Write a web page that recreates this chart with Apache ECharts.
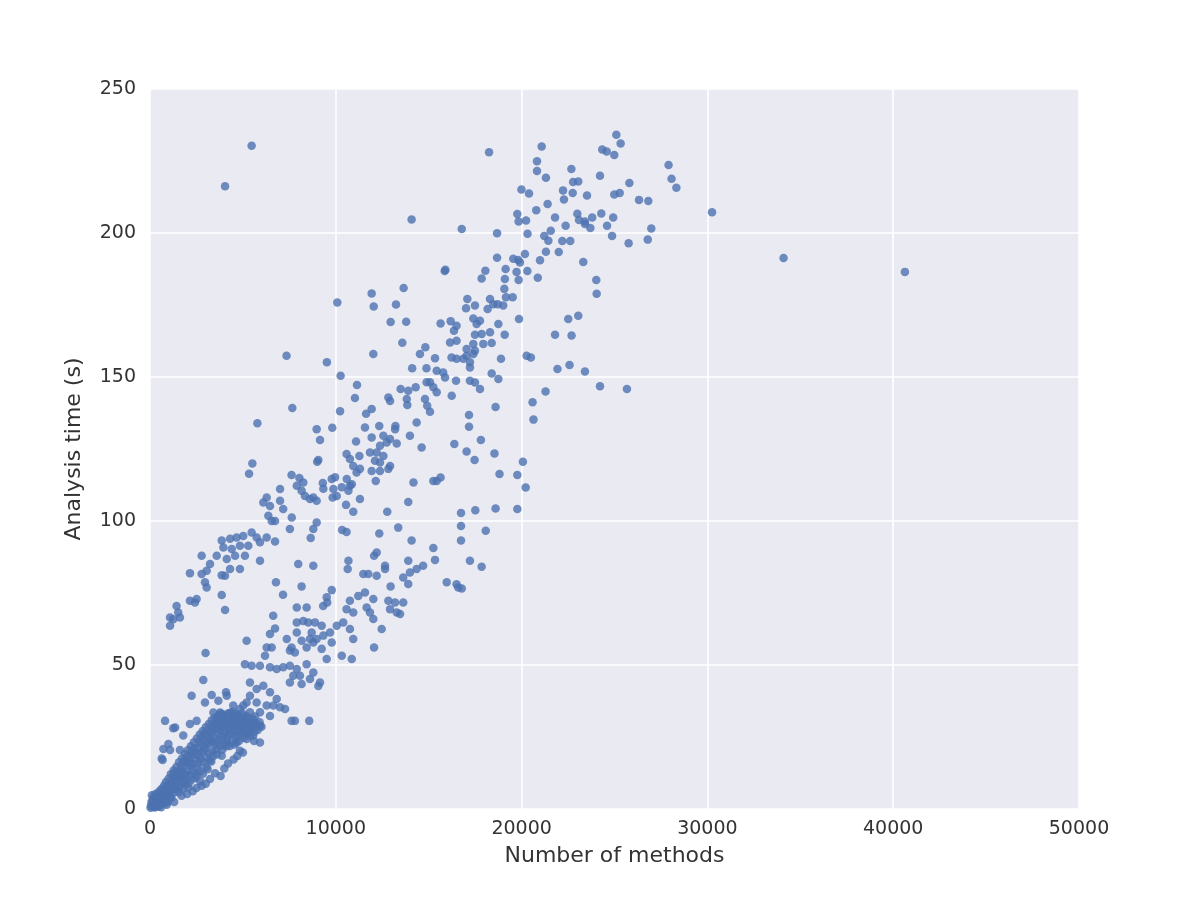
<!DOCTYPE html>
<html>
<head>
<meta charset="utf-8">
<script src="https://cdn.jsdelivr.net/npm/echarts@6/dist/echarts.min.js"></script>
<style>html,body{margin:0;padding:0;background:#fff}#c{width:1200px;height:900px}</style>
</head>
<body>
<div id="c"></div>
<script>
// Axis ticks
const xTicks = [0, 10000, 20000, 30000, 40000, 50000];
const yTicks = [0, 50, 100, 150, 200, 250];

// Isolated outliers / top points
const outliers = [[5470,230.3],[4040,216.2],[14080,204.7],[34100,191.3],[40630,186.5],[30250,207.2],[18250,228],[25100,234.1],[25330,231.1],[24340,229.0],[24580,228.3],[24990,227.1],[21080,230]];

// Upper right cloud (x 16000-29000)
const upperCloud = [[20830,224.9],[20830,221.5],[21310,219.2],[22680,222.2],[22770,217.7],[23050,217.9],[24220,219.9],[25800,217.4],[27910,223.6],[28070,218.8],[28330,215.7],[19990,215.1],[20400,213.7],[22230,214.8],[22280,211.6],[22750,213.9],[23520,213],[24990,213.4],[25280,213.9],[26320,211.5],[26820,211.1],[21400,210.1],[20790,207.9],[19770,206.6],[19840,204],[20240,204.3],[21800,205.4],[23000,206.7],[23090,204.5],[23410,204],[23800,205.4],[23700,201.7],[23410,203.1],[24290,206.8],[24930,205.4],[24600,202.5],[24870,199],[26980,201.6],[26790,197.7],[25760,196.4],[22370,202.5],[21570,200.8],[21220,199],[21440,197.3],[20320,199.7],[18680,199.9],[16780,201.4],[22190,197.2],[22620,197.2],[22000,193.4],[21310,193.5],[20990,190.5],[20180,192.7],[19910,189.8],[19550,191.1],[19820,190.6],[18680,191.4],[23320,189.9],[20310,186.8],[20870,184.5],[24020,183.7],[24040,178.9],[19140,187.5],[19100,184],[19070,180.6],[19160,177.7],[19520,177.7],[19010,174.8],[19730,186.5],[19840,183.7],[18050,186.9],[17850,184.2],[17080,177.1],[17010,173.9],[17490,174.8],[18300,177.1],[18480,175.3],[18170,173.6],[18710,175.3],[19860,170.1],[18750,168.4],[22510,170.1],[23050,171.3],[17400,170.3],[17760,169.5],[17580,168.4],
[15860,186.8],[15900,187.2],[10080,175.9],[11930,179],[12040,174.5],[13240,175.2],[13650,180.9],[12950,169.1],[13790,169.2],[15640,168.6],[16180,169.4],[16500,167.8]];

// Middle cloud (x 5000-26000, y 100-170)
const middleCloud = [[7350,157.4],[9520,155.1],[10260,150.4],[12020,158],[13580,161.9],[14530,158],[14820,160.3],[15340,156.5],[16360,166.1],[16150,162],[16500,162.6],[16230,156.8],[16500,156.3],[14110,153],[14880,153],[15430,152.2],[15780,151.6],[15880,149.8],[15070,148.2],[15250,146.4],[15430,144.7],[14890,148.2],[16470,148.7],[16240,143.5],[13490,145.8],[13900,145.2],[14300,146.4],[11140,147.2],[11030,142.7],[12830,142.9],[12920,141.7],[13820,142.4],[13850,140.3],[14800,142.4],[14920,140],[15070,137.9],[11930,138.9],[11630,137.2],[10230,138.1],[7660,139.2],[5780,133.9],[8970,131.9],[9150,128.1],[9810,132.4],[11570,132.5],[12340,133],[12560,129.6],[12740,127.3],[12380,126.1],[12200,123.8],[12560,122.6],[12920,128.5],[13280,126.9],[13210,133],[13190,131.9],[14350,134.2],[13990,129.6],[14620,125.5],[16380,126.7],[11930,129],[11840,123.8],[12110,120.9],[12380,120.3],[11090,127.6],[10580,123.3],[10760,121.5],[11270,122.6],[10940,119.1],[11120,116.8],[11300,118.1],[11930,117.4],[12380,117.4],[12920,119.1],[12830,118.1],[12150,113.9],[14180,113.4],[15430,113.9],[15640,115.1],[15250,113.9],[9060,121.2],[9000,120.6],[5510,120],[5330,116.4],
[21800,164.7],[22690,164.4],[19090,164.7],[18300,165.5],[18390,161.8],[17490,164.7],[17850,164.9],[17940,161.5],[17400,161.5],[17040,159.7],[17400,158],[17040,157.4],[17220,155.1],[17220,153.3],[16860,156.3],[17490,159.1],[18890,156.3],[20270,157.4],[20500,156.8],[21930,152.8],[22580,154.2],[23410,151.9],[24220,146.8],[25670,145.8],[18390,151.2],[18750,149.3],[17220,148.7],[17490,148.1],[17760,145.8],[21290,145],[20590,141.2],[18600,139.6],[20640,135.2],[17170,136.8],[17170,132.7],[17810,128.1],[17040,124.1],[17470,121.2],[18540,123.4],[20070,120.6],[18810,116.3],[19770,116],[20220,111.6],[17510,103.7],[18600,104.3],[19770,104.2],[16740,102.8],[16740,98.3],[18070,96.6],[16740,93.2],[17220,86.2],[17850,84.1],[16780,76.6],[16500,78]];

// Upper branch (steep, x 1000-15000)
const upperBranch = [[7620,116],[8040,114.9],[8250,113.4],[7900,112.2],[8160,110.5],[8340,108.7],[8790,108.2],[8970,107],[8610,107.6],[9300,113.2],[9330,111.2],[9780,114.6],[9960,115.2],[9870,111.1],[10050,108.7],[9830,108.2],[10320,111.7],[10590,114.6],[10760,112.2],[10680,110.5],[10860,112.8],[11300,107.6],[10550,105.6],[10940,103.2],[12770,103.2],[13900,106.6],[7000,111.1],[6280,108.2],[6100,106.4],[6460,105.2],[7000,107],[7170,104.2],[7630,101.2],[6370,101.8],[6550,100],[6730,100],[7530,97.2],[8970,99.5],[8790,97.2],[8650,94.1],[10340,96.9],[10580,96.2],[12340,95.7],[13360,97.7],[14080,93.2],[15250,90.6],[15340,86.5],[12200,89.1],[12060,87.9],
[3860,93.2],[4310,93.8],[4660,94.3],[5020,94.8],[5470,96],[5740,94.3],[5920,92.6],[6280,94.3],[6730,92.9],[3950,90.8],[4400,90.3],[4840,91.4],[5290,91.4],[4580,87.9],[5110,87.9],[4130,86.8],[3590,87.9],[2780,87.9],[3230,85.1],[5920,86.2],[7980,85.1],[8790,84.5],[10680,86.2],[12650,84.5],[13900,86.2],[14700,84.5],
[2150,81.9],[2780,81.6],[3050,82.7],[3860,81.2],[4040,81],[4310,83.3],[4840,83.3],[2960,78.7],[3050,76.9],[3860,74.3],[4040,69.1],[2150,72.3],[2510,72.9],[2420,71.7],[1430,70.5],[1520,68.2],[1080,66.5],[1080,63.6],[1610,66.5],[1250,65.9],[2990,54.2]];

// Lower branch (x 5000-17000, y 30-85)
const lowerBranch = [[6780,78.7],[7160,74.4],[8160,77.3],[9780,76],[9510,73.5],[9320,70.5],[9540,71.7],[10640,83.3],[11480,81.6],[11750,81.6],[12200,81],[12650,83.3],[12950,77.3],[13630,80.4],[13990,82.1],[13900,78.1],[14350,83.3],[15970,78.7],[16590,76.9],
[10760,72.3],[11210,74],[11570,75.2],[12020,72.9],[12830,72.3],[13190,71.7],[13630,71.7],[13280,68.2],[13460,67.7],[12920,69.4],[10580,69.4],[10940,68.2],[11660,70],[11840,68.2],[12020,66],[12470,62.5],[12060,56.1],[10940,59],[10760,62.5],[10400,64.8],[10050,63.6],[10320,53.2],[10860,52.1],
[9690,61.3],[9780,57.8],[9330,60.2],[9240,55.6],[9510,52.1],[8970,59],[8790,57.8],[8700,61.3],[7900,70],[8430,70],[7900,64.8],[8250,65.3],[8520,64.8],[8880,64.8],[9240,63.6],[7900,61.3],[8160,58.4],[8610,59],[8430,56.1],[7360,59],[7530,55],[7800,54.3],[7620,56.1],[6630,67.1],[6730,62.7],[6460,60.8],[6280,56.1],[6190,53.2],[6550,56.1],[5200,58.4],
[5110,50.3],[5470,49.7],[5920,49.7],[6460,49.2],[6820,48.6],[7170,49.2],[7530,49.7],[7900,48.6],[8070,46.3],[7710,46.3],[8430,50.3],[8790,47.4],[9150,43.9],[9060,42.7],[8610,45.1],[8160,43.4],[7530,43.9],
[5380,43.9],[5740,41.7],[6100,42.8],[6460,40.5],[6820,38.2],[5380,39.3],[5200,37],[5740,37],[6280,35.9],[6640,35.9],[7000,35.3],[5920,33.6],[5380,33.6],[5020,35.9],[6460,32.3],[7270,34.7],[7620,30.6],[7800,30.6],[8570,30.6]];

// Dense core band near the origin (x 0-6000)
const denseBand = [[2870,44.8],[2240,39.3],[3320,39.6],[4090,40.5],[4130,39.3],[2960,37],[3680,37.6],[4480,35.9],[4840,34.7],
[810,30.6],[1350,28.3],[1790,25.5],[720,20.8],[990,22.6],[680,17],[2150,29.5],[2510,30.6],[1250,28],[630,17.5],[1080,20.5],[1610,20.5],
[5920,28.9],[5920,23.1],[5380,27.8],[5560,25.5],[4840,28.9],[5020,26.6],[4480,30.6],[4660,32.3],[4210,28.9],[3770,33.5],[3410,33.5],[3680,30],
[4840,20.2],[4660,23.1],[4130,23.1],[3860,18.5],[3230,10.4],[2780,8.1],[2060,7.5],[2510,11.6],
[50,1.2],[80,2.5],[120,0.8],[150,3.1],[200,1.8],[220,4.2],[260,0.5],[300,2.9],[100,4.8],[180,3.6],[30,0.4],[240,2.2],[280,5.1],[330,1.4],[360,3.8],[400,2.1],[420,5.6],[460,0.9],[480,4.1],[520,3.2],[550,6.4],[580,1.9],[620,4.7],[650,7.1],[700,2.8],[720,5.5],[760,8.2],[800,3.6],[830,6.3],[860,9.4],[900,4.4],[940,7.8],[980,2.6],[1000,10.5],[1050,5.2],[1080,8.6],[1120,12.1],[1150,3.9],[1200,6.8],[1230,9.9],[1270,13.4],[1300,5.7],[1340,11.2],[1380,8.1],[1420,14.6],[1450,6.9],[1500,10.3],[1530,12.8],[1560,16.2],[1600,7.8],[1640,13.6],[1680,10.9],[1720,17.5],[1760,9.2],[1800,14.8],[1840,12.2],[1880,19.1],[1920,8.7],[1960,16.3],[2000,13.1],[2040,20.4],[2080,11.4],[2120,17.6],[2160,14.9],[2200,21.8],[2240,10.2],[2280,18.7],[2320,15.6],[2360,23.2],[2400,12.6],[2440,19.8],[2480,17.1],[2520,24.5],[2560,14.3],[2600,21.2],[2640,18.4],[2680,25.9],[2720,13.1],[2760,22.6],[2800,19.7],[2840,27.1],[2880,16.2],[2920,23.8],[2960,21.1],[3000,28.4],[3040,17.9],[3080,25.2],[3120,22.4],[3160,29.5],[3200,19.3],[3240,26.5],[3280,23.7],[3320,30.8],[3360,20.1],[3400,27.7],[3440,25.1],[3480,31.6],[3520,22.3],[3560,29.1],[3600,26.4],[3640,32.2],[3680,23.8],[3720,30.2],[3760,27.5],[3800,33.1],[3840,25.2],[3880,31.3],[3920,28.6],[3960,22.1],[4000,32.4],[4050,26.8],[4100,30.1],[4150,24.6],[4200,33.2],[4250,28.3],[4300,31.7],[4350,26.1],[4400,29.4],[4450,33.8],[4500,27.6],[4560,31.1],[4620,24.9],[4680,29.7],[4740,32.6],[4800,27.2],[4860,30.4],[4920,25.8],[4980,29.1],[5050,31.9],[5120,27.7],[5200,30.3],[5280,26.4],[5360,29.6],[5450,28.1],[5540,31.2],[5620,26.9],[5700,29.8],[5800,27.4],[5900,30.1],[6000,28.6],
[2000,5.2],[2500,7.3],[3000,8.8],[3500,12.4],[4000,14.1],[4500,17.2],[5000,19.6],[3800,11.5],[4200,15.8],[4700,18.4],
[1700,4.6],[1300,2.4],[900,1.5],[600,0.6],[1900,9.8],[2300,6.2],[2700,9.6],[3100,13.8],[3300,16.5],[3600,18.9],[3900,20.7],[4300,21.9],[4600,25.8],[5200,24.3],[5600,23.6]];

// Extra points filling the dense core band
const denseBandFill = [[1100,4.3],[1180,9.1],[1250,11.8],[1320,7.4],[1400,12.9],[1470,9.6],[1550,5.8],[1620,11.6],[1700,15.2],[1780,7.1],[1850,16.8],[1930,11.9],[2010,18.2],[2090,8.9],[2150,15.9],[2230,19.6],[2300,13.3],[2380,21.1],[2450,10.8],[2530,19.1],[2600,15.8],[2660,23.4],[2730,17.2],[2790,25.1],[2850,12.2],[2910,20.4],[2970,26.2],[3030,14.6],[3090,22.9],[3150,27.3],[3210,16.8],[3270,24.1],[3330,28.7],[3390,18.3],[3450,23.2],[3510,29.8],[3570,20.6],[3630,27.9],[3690,31.4],[3750,21.9],[3810,29.2],[3870,24.1],[3930,32.8],[3990,26.2],[4060,29.6],[4120,21.8],[4180,31.2],[4240,25.7],[4310,33.4],[4370,23.2],[4430,30.6],[4490,28.9],[4550,22.4],[4610,33.1],[4670,27.4],[4730,30.8],[4790,23.6],[4850,31.8],[4910,28.3],[4970,33.2],[5040,24.7],[5100,29.9],[5160,32.4],[5230,27.1],[5310,31.6],[5390,25.4],[5470,30.3],[5580,28.7],[5660,32.1],[5760,29.2],
[300,0.9],[380,1.6],[450,2.7],[530,1.3],[610,3.4],[690,5.9],[770,4.6],[850,2.1],[930,6.6],[1010,7.3]];

const allPoints = [].concat(outliers, upperCloud, middleCloud, upperBranch, lowerBranch, denseBand, denseBandFill);

const chart = echarts.init(document.getElementById('c'), null, {renderer: 'canvas'});
const labelFont = {color: '#333', fontSize: 19, fontFamily: 'DejaVu Sans'};
const nameFont = {color: '#333', fontSize: 22, fontFamily: 'DejaVu Sans'};
chart.setOption({
  animation: false,
  backgroundColor: '#ffffff',
  grid: {left: 150, right: 121, top: 89, bottom: 91, show: true, backgroundColor: '#EAEAF2', borderWidth: 0},
  xAxis: {
    type: 'value', min: xTicks[0], max: xTicks[xTicks.length - 1], interval: xTicks[1] - xTicks[0],
    name: 'Number of methods', nameLocation: 'middle', nameGap: 36,
    nameTextStyle: nameFont,
    axisLine: {show: false}, axisTick: {show: false},
    axisLabel: Object.assign({margin: 11, formatter: v => String(v)}, labelFont),
    splitLine: {show: true, lineStyle: {color: '#ffffff', width: 1.6}}
  },
  yAxis: {
    type: 'value', min: yTicks[0], max: yTicks[yTicks.length - 1], interval: yTicks[1] - yTicks[0],
    name: 'Analysis time (s)', nameLocation: 'middle', nameGap: 65,
    nameTextStyle: nameFont,
    axisLine: {show: false}, axisTick: {show: false},
    axisLabel: Object.assign({margin: 14, formatter: v => String(v)}, labelFont),
    splitLine: {show: true, lineStyle: {color: '#ffffff', width: 1.6}}
  },
  series: [{
    type: 'scatter',
    data: allPoints,
    symbol: 'circle',
    symbolSize: 8.5,
    itemStyle: {color: '#4C72B0', opacity: 0.8}
  }]
});
</script>
</body>
</html>
